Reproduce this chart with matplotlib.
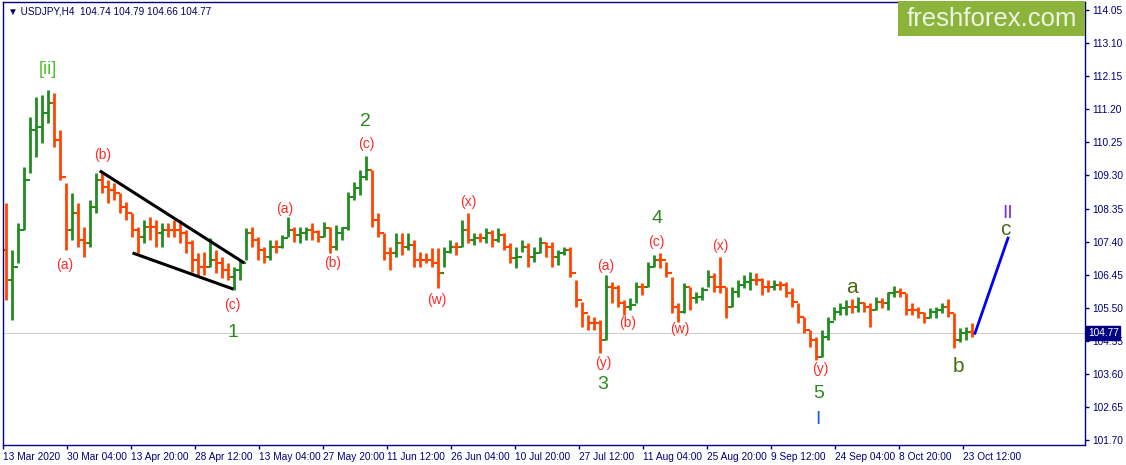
import numpy as np
import matplotlib
matplotlib.use("Agg")
import matplotlib.pyplot as plt

first_open = 107.16
high = [108.51, 107.16, 107.93, 109.54, 110.98, 111.55, 111.61, 111.75, 111.67, 110.60,
        109.08, 108.79, 108.51, 107.82, 108.59, 109.37, 109.40, 109.17, 109.08, 108.79,
        108.54, 108.22, 107.82, 108.02, 108.10, 108.02, 107.93, 107.93, 108.02, 108.02,
        107.73, 107.44, 107.07, 107.10, 107.50, 107.16, 106.96, 106.78, 106.67, 106.87,
        107.79, 107.82, 107.53, 107.24, 107.44, 107.44, 107.59, 108.10, 107.82, 107.82,
        107.82, 107.93, 107.73, 107.96, 107.82, 107.88, 107.82, 108.82, 109.11, 109.45,
        109.86, 109.45, 108.22, 107.65, 107.24, 107.65, 107.65, 107.65, 107.44, 107.10,
        107.07, 107.21, 107.21, 107.24, 107.44, 107.39, 108.02, 108.22, 107.65, 107.65,
        107.79, 107.73, 107.79, 107.65, 107.36, 107.24, 107.44, 107.36, 107.24, 107.53,
        107.39, 107.39, 107.16, 107.24, 107.24, 106.30, 105.66, 105.29, 105.23, 105.15,
        106.44, 106.24, 106.15, 105.72, 105.78, 106.24, 106.21, 106.81, 107.01, 107.07,
        106.81, 106.38, 105.64, 106.21, 106.09, 105.95, 106.09, 106.58, 106.50, 106.96,
        106.09, 106.09, 106.30, 106.44, 106.53, 106.50, 106.35, 106.30, 106.30, 106.27,
        106.24, 106.07, 105.64, 105.23, 104.86, 104.66, 104.86, 105.23, 105.52, 105.64,
        105.72, 105.75, 105.81, 105.66, 105.64, 105.81, 105.78, 105.95, 106.12, 106.07,
        105.92, 105.64, 105.52, 105.38, 105.49, 105.52, 105.64, 105.75, 105.35, 104.92,
        104.95, 105.06]
low = [105.72, 105.15, 106.78, 107.73, 109.37, 109.83, 110.23, 110.80, 110.12, 109.17,
       107.16, 107.44, 107.24, 106.96, 107.24, 108.22, 108.79, 108.51, 108.59, 108.22,
       108.02, 107.53, 107.07, 107.36, 107.44, 107.24, 107.24, 107.53, 107.53, 107.36,
       107.07, 106.53, 106.38, 106.44, 106.67, 106.50, 106.35, 106.30, 106.01, 106.30,
       106.87, 107.24, 106.87, 106.78, 106.87, 107.07, 107.21, 107.53, 107.39, 107.36,
       107.44, 107.44, 107.39, 107.53, 107.07, 107.16, 107.44, 107.73, 108.59, 108.74,
       109.17, 107.82, 107.53, 106.87, 106.58, 106.96, 107.01, 107.16, 106.67, 106.67,
       106.78, 106.67, 106.07, 106.67, 107.07, 107.01, 107.24, 107.36, 107.30, 107.39,
       107.36, 107.24, 107.39, 107.16, 106.78, 106.64, 107.10, 106.67, 106.81, 107.07,
       106.96, 106.67, 106.73, 107.01, 106.38, 105.52, 104.95, 104.86, 104.86, 104.20,
       104.57, 105.64, 105.52, 105.29, 105.43, 105.64, 105.87, 106.09, 106.67, 106.64,
       106.38, 105.35, 105.09, 105.35, 105.43, 105.64, 105.72, 106.09, 105.95, 105.92,
       105.20, 105.52, 105.81, 106.07, 106.01, 106.15, 105.87, 105.95, 106.01, 106.01,
       105.81, 105.52, 105.06, 104.77, 104.37, 104.00, 104.08, 104.57, 105.15, 105.29,
       105.29, 105.35, 105.38, 105.38, 104.95, 105.43, 105.49, 105.43, 105.81, 105.81,
       105.29, 105.29, 105.20, 105.06, 105.20, 105.20, 105.35, 105.23, 104.34, 104.51,
       104.57, 104.66]
close = [106.30, 106.67, 107.73, 109.17, 110.60, 110.69, 111.09, 111.38, 110.32, 109.25,
         107.73, 108.22, 107.44, 107.36, 108.39, 109.17, 108.97, 108.88, 108.79, 108.39,
         108.22, 107.73, 107.53, 107.82, 107.82, 107.65, 107.73, 107.73, 107.73, 107.65,
         107.36, 106.87, 106.67, 106.67, 106.87, 106.78, 106.58, 106.38, 106.58, 106.78,
         107.65, 107.44, 107.16, 106.96, 107.24, 107.24, 107.50, 107.73, 107.59, 107.65,
         107.73, 107.67, 107.53, 107.79, 107.24, 107.65, 107.79, 108.68, 108.94, 109.25,
         109.45, 108.02, 107.65, 107.07, 107.07, 107.36, 107.24, 107.30, 106.87, 106.87,
         106.87, 106.78, 106.50, 107.10, 107.24, 107.24, 107.73, 107.44, 107.50, 107.50,
         107.65, 107.44, 107.59, 107.24, 106.93, 106.96, 107.24, 106.96, 107.07, 107.36,
         107.24, 106.96, 107.07, 107.16, 106.50, 105.72, 105.35, 105.06, 105.06, 104.57,
         106.09, 106.07, 105.64, 105.52, 105.58, 106.09, 106.09, 106.67, 106.87, 106.87,
         106.50, 105.52, 105.38, 106.09, 105.78, 105.81, 106.01, 106.38, 106.09, 106.09,
         105.52, 105.95, 106.15, 106.24, 106.30, 106.30, 106.09, 106.09, 106.15, 106.15,
         105.92, 105.66, 105.23, 104.86, 104.57, 104.08, 104.66, 105.09, 105.38, 105.49,
         105.52, 105.52, 105.64, 105.52, 105.43, 105.66, 105.64, 105.92, 105.95, 105.92,
         105.43, 105.43, 105.35, 105.20, 105.38, 105.43, 105.52, 105.35, 104.57, 104.77,
         104.80, 104.77]

# forecast leg (blue line): from the last close to the projected top of c
forecast_bars = [972, 1005]
forecast_price = [104.77, 107.50]

# falling wedge lines (bar index, price)
wedge_upper = ([98, 240], [109.41, 106.81])
wedge_lower = ([131, 229], [107.06, 106.05])

date_labels = ['13 Mar 2020', '30 Mar 04:00', '13 Apr 20:00', '28 Apr 12:00',
               '13 May 04:00', '27 May 20:00', '11 Jun 12:00', '26 Jun 04:00',
               '10 Jul 20:00', '27 Jul 12:00', '11 Aug 04:00', '25 Aug 20:00',
               '9 Sep 12:00', '24 Sep 04:00', '8 Oct 20:00', '23 Oct 12:00']
price_ticks = [101.70, 102.65, 103.60, 104.55, 105.50, 106.45, 107.40,
               108.35, 109.30, 110.25, 111.20, 112.15, 113.10, 114.05]
last_price = 104.77

# wave labels: text, bar index, price, colour, size
RED = '#ff2a2a'
DGREEN = '#2b8a1e'
OLIVE = '#4a6a10'
waves = [
    ('[ii]', 45, 112.33, '#4cc02a', 13),
    ('(a)', 62, 106.73, RED, 10), ('(b)', 100, 109.89, RED, 10),
    ('(c)', 229, 105.58, RED, 10), ('1', 230, 104.80, DGREEN, 14),
    ('(a)', 282, 108.34, RED, 10), ('(b)', 330, 106.79, RED, 10),
    ('(c)', 363, 110.20, RED, 10), ('2', 362, 110.86, DGREEN, 14),
    ('(w)', 434, 105.72, RED, 10), ('(x)', 465, 108.54, RED, 10),
    ('(y)', 600, 103.91, RED, 10), ('3', 600, 103.31, DGREEN, 14),
    ('(a)', 603, 106.70, RED, 10), ('(b)', 625, 105.06, RED, 10),
    ('(c)', 653, 107.39, RED, 10), ('4', 654, 108.05, DGREEN, 14),
    ('(w)', 677, 104.89, RED, 10), ('(x)', 717, 107.27, RED, 10),
    ('(y)', 817, 103.74, RED, 10), ('5', 816, 103.05, DGREEN, 14),
    ('I', 815, 102.28, '#1f5fd0', 14),
    ('a', 849, 106.09, OLIVE, 15), ('b', 955, 103.80, OLIVE, 15),
    ('c', 1002, 107.76, OLIVE, 15), ('II', 1005, 108.22, '#7a33f0', 14),
]

NAVY = '#000080'
BARS_PER_DAY = 6

fig = plt.figure(figsize=(11.26, 4.65), dpi=100)
ax = fig.add_axes([3 / 1126, 20 / 465, 1082 / 1126, 443 / 465])
ax.set_xlim(0, 1082)
ax.set_ylim(101.56, 114.28)

o = np.r_[first_open, close[:-1]]
h = np.array(high)
l = np.array(low)
c = np.array(close)
x = np.arange(len(c)) * BARS_PER_DAY + BARS_PER_DAY / 2
cols = np.where(c > o, '#228b22', '#ff4500')

ax.axhline(last_price, color='#cfcfcf', lw=0.8, zorder=0)
ax.vlines(x, l, h, colors=cols, lw=2.0, zorder=2)
ax.hlines(o, x - 2.8, x, colors=cols, lw=1.5, zorder=2)
ax.hlines(c, x, x + 2.8, colors=cols, lw=1.5, zorder=2)

ax.plot(*wedge_upper, color='black', lw=2.2, zorder=3)
ax.plot(*wedge_lower, color='black', lw=2.2, zorder=3)
ax.plot(forecast_bars, forecast_price, color='#0000ff', lw=2, zorder=3)

for txt, bx, py, col, fs in waves:
    ax.text(bx, py, txt, color=col, fontsize=fs, ha='center', va='center',
            family='Liberation Sans', zorder=4)

for s in ax.spines.values():
    s.set_color(NAVY)
    s.set_linewidth(1)

ax.yaxis.tick_right()
ax.set_yticks(price_ticks)
ax.set_yticklabels([f'{p:.2f}' for p in price_ticks])
ax.set_xticks(np.arange(len(date_labels)) * 64)
ax.set_xticklabels(date_labels, ha='left')
ax.tick_params(colors=NAVY, labelcolor=NAVY, labelsize=7.3, length=3, width=1, pad=2)
for lab in ax.get_xticklabels() + ax.get_yticklabels():
    lab.set_family('Liberation Sans')

# header and current price box
fig.text(8 / 1126, 1 - 11 / 465, '\u25bc USDJPY,H4  104.74 104.79 104.66 104.77',
         color='#000060', fontsize=7.2, family='Liberation Sans', va='center')
fig.text(1088 / 1126, 1 - 333 / 465, f'{last_price:.2f}', color='white', fontsize=7.3,
         family='Liberation Sans', va='center', ha='left', zorder=10,
         bbox=dict(boxstyle='square,pad=0.15', fc=NAVY, ec=NAVY))

# logo
fig.patches.append(plt.Rectangle((898 / 1126, 1 - 36 / 465), 187 / 1126, 35 / 465,
                                 transform=fig.transFigure, fc='#8cb43c', ec='none', zorder=5))
fig.text(992 / 1126, 1 - 19 / 465, 'freshforex.com', color='#eef4e2', fontsize=18.5,
         family='Liberation Sans', ha='center', va='center', zorder=6)

fig.savefig('out.png', dpi=100)
